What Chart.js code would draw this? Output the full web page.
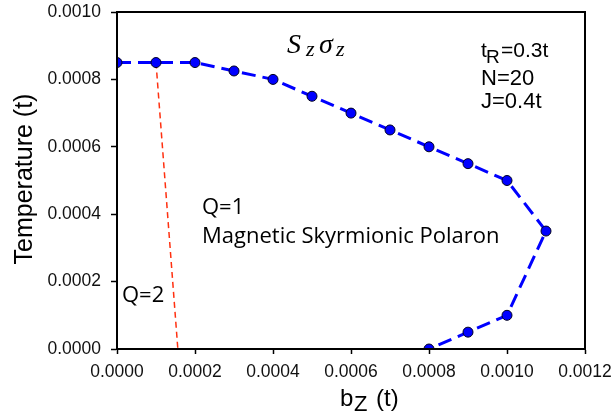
<!DOCTYPE html>
<html>
<head>
<meta charset="utf-8">
<script src="https://cdn.jsdelivr.net/npm/chart.js@4.4.1/dist/chart.umd.min.js"></script>
<style>
  html, body { margin: 0; padding: 0; background: #fff; }
  #wrap { width: 615px; height: 412px; }
</style>
</head>
<body>
<div id="wrap"><canvas id="chart" width="615" height="412"></canvas></div>
<script>
// Q=1 phase boundary (blue)
const bzValues = [0, 0.0001, 0.0002, 0.0003, 0.0004, 0.0005, 0.0006, 0.0007, 0.0008, 0.0009, 0.0010, 0.0011, 0.0010, 0.0009, 0.0008];
const tempValues = [0.00085, 0.00085, 0.00085, 0.000825, 0.0008, 0.00075, 0.0007, 0.00065, 0.0006, 0.00055, 0.0005, 0.00035, 0.0001, 0.00005, 0];

// Q=2 boundary (red)
const bzQ2 = [0.0001, 0.000156];
const tempQ2 = [0.00085, 0];

const xTicks = [0, 0.0002, 0.0004, 0.0006, 0.0008, 0.0010, 0.0012];
const yTicks = [0, 0.0002, 0.0004, 0.0006, 0.0008, 0.0010];

const toPts = (xs, ys) => xs.map((x, i) => ({ x: x, y: ys[i] }));

const SANS = 'Liberation Sans, Arial, sans-serif';
const SERIF = 'Liberation Serif, DejaVu Serif, serif';
const OPEN = 'Open Sans, Lato, sans-serif';

Chart.defaults.font.family = SANS;
Chart.defaults.font.size = 17;
Chart.defaults.color = '#111';

// draws frame, axis titles and the labels inside the plot
const extras = {
  id: 'extras',
  afterDraw(chart) {
    const ctx = chart.ctx;
    const a = chart.chartArea;
    ctx.save();
    ctx.strokeStyle = '#000';
    ctx.lineWidth = 2;
    ctx.strokeRect(a.left, a.top, a.right - a.left, a.bottom - a.top);

    ctx.fillStyle = '#000';
    ctx.textBaseline = 'alphabetic';

    // y title
    ctx.save();
    ctx.translate(32, 179);
    ctx.rotate(-Math.PI / 2);
    ctx.textAlign = 'center';
    ctx.font = '25px ' + SANS;
    ctx.fillText('Temperature (t)', 0, 0);
    ctx.restore();

    // x title b_Z (t)
    ctx.textAlign = 'left';
    ctx.font = '24px ' + SANS;
    ctx.fillText('b', 340, 406);
    ctx.font = '22px ' + SANS;
    ctx.fillText('Z', 354, 411);
    ctx.font = '24px ' + SANS;
    ctx.fillText('(t)', 376, 406);

    // S_z sigma_z
    ctx.font = 'italic 28px ' + SERIF;
    ctx.fillText('S', 287, 53);
    ctx.font = 'italic 22px ' + SERIF;
    ctx.fillText('z', 306, 56);
    ctx.font = 'italic 28px ' + SERIF;
    ctx.fillText('\u03C3', 319, 53);
    ctx.font = 'italic 22px ' + SERIF;
    ctx.fillText('z', 336, 56);

    // parameters
    ctx.font = '21px ' + SANS;
    ctx.fillText('t', 481, 57);
    ctx.font = '19px ' + SANS;
    ctx.fillText('R', 486, 63);
    ctx.font = '21px ' + SANS;
    ctx.fillText('=0.3t', 501, 57);
    ctx.font = '22px ' + SANS;
    ctx.fillText('N=20', 481, 85);
    ctx.fillText('J=0.4t', 481, 108);

    // regions
    ctx.font = '22px ' + OPEN;
    ctx.fillText('Q=1', 202, 214);
    ctx.fillText('Q=2', 122, 302);
    ctx.fillText('Magnetic Skyrmionic Polaron', 202, 243);
    ctx.restore();
  }
};

new Chart(document.getElementById('chart').getContext('2d'), {
  type: 'scatter',
  data: {
    datasets: [
      {
        label: 'Q=2',
        data: toPts(bzQ2, tempQ2),
        showLine: true,
        borderColor: '#ff3010',
        borderWidth: 1.5,
        borderDash: [6, 4],
        pointRadius: 0,
        order: 2
      },
      {
        label: 'Q=1',
        data: toPts(bzValues, tempValues),
        showLine: true,
        borderColor: '#0000ff',
        borderWidth: 3,
        borderDash: [14, 7],
        pointRadius: 5,
        pointBackgroundColor: '#0000ff',
        pointBorderColor: '#000020',
        pointBorderWidth: 1,
        order: 1
      }
    ]
  },
  options: {
    responsive: false,
    animation: false,
    events: [],
    layout: { padding: { left: 0, top: 12, right: 30, bottom: 0 } },
    plugins: {
      legend: { display: false },
      tooltip: { enabled: false }
    },
    scales: {
      x: {
        type: 'linear',
        min: 0,
        max: 0.0012,
        afterFit: s => { s.height = 63; s.paddingLeft = 0; s.paddingRight = 0; },
        afterBuildTicks: s => { s.ticks = xTicks.map(v => ({ value: v })); },
        grid: { drawOnChartArea: false, tickLength: 5, color: '#000', tickWidth: 1.5 },
        border: { display: true, color: '#000', width: 2 },
        ticks: {
          padding: 8,
          maxRotation: 0,
          font: { size: 17.5 },
          callback: v => v.toFixed(4)
        }
      },
      y: {
        type: 'linear',
        min: 0,
        max: 0.0010,
        afterFit: s => { s.width = 117; s.paddingTop = 0; s.paddingBottom = 0; },
        afterBuildTicks: s => { s.ticks = yTicks.map(v => ({ value: v })); },
        grid: { drawOnChartArea: false, tickLength: 6, color: '#000', tickWidth: 1.5 },
        border: { display: true, color: '#000', width: 2 },
        ticks: {
          padding: 10,
          font: { size: 17.5 },
          callback: v => v.toFixed(4)
        }
      }
    }
  },
  plugins: [extras]
});
</script>
</body>
</html>
